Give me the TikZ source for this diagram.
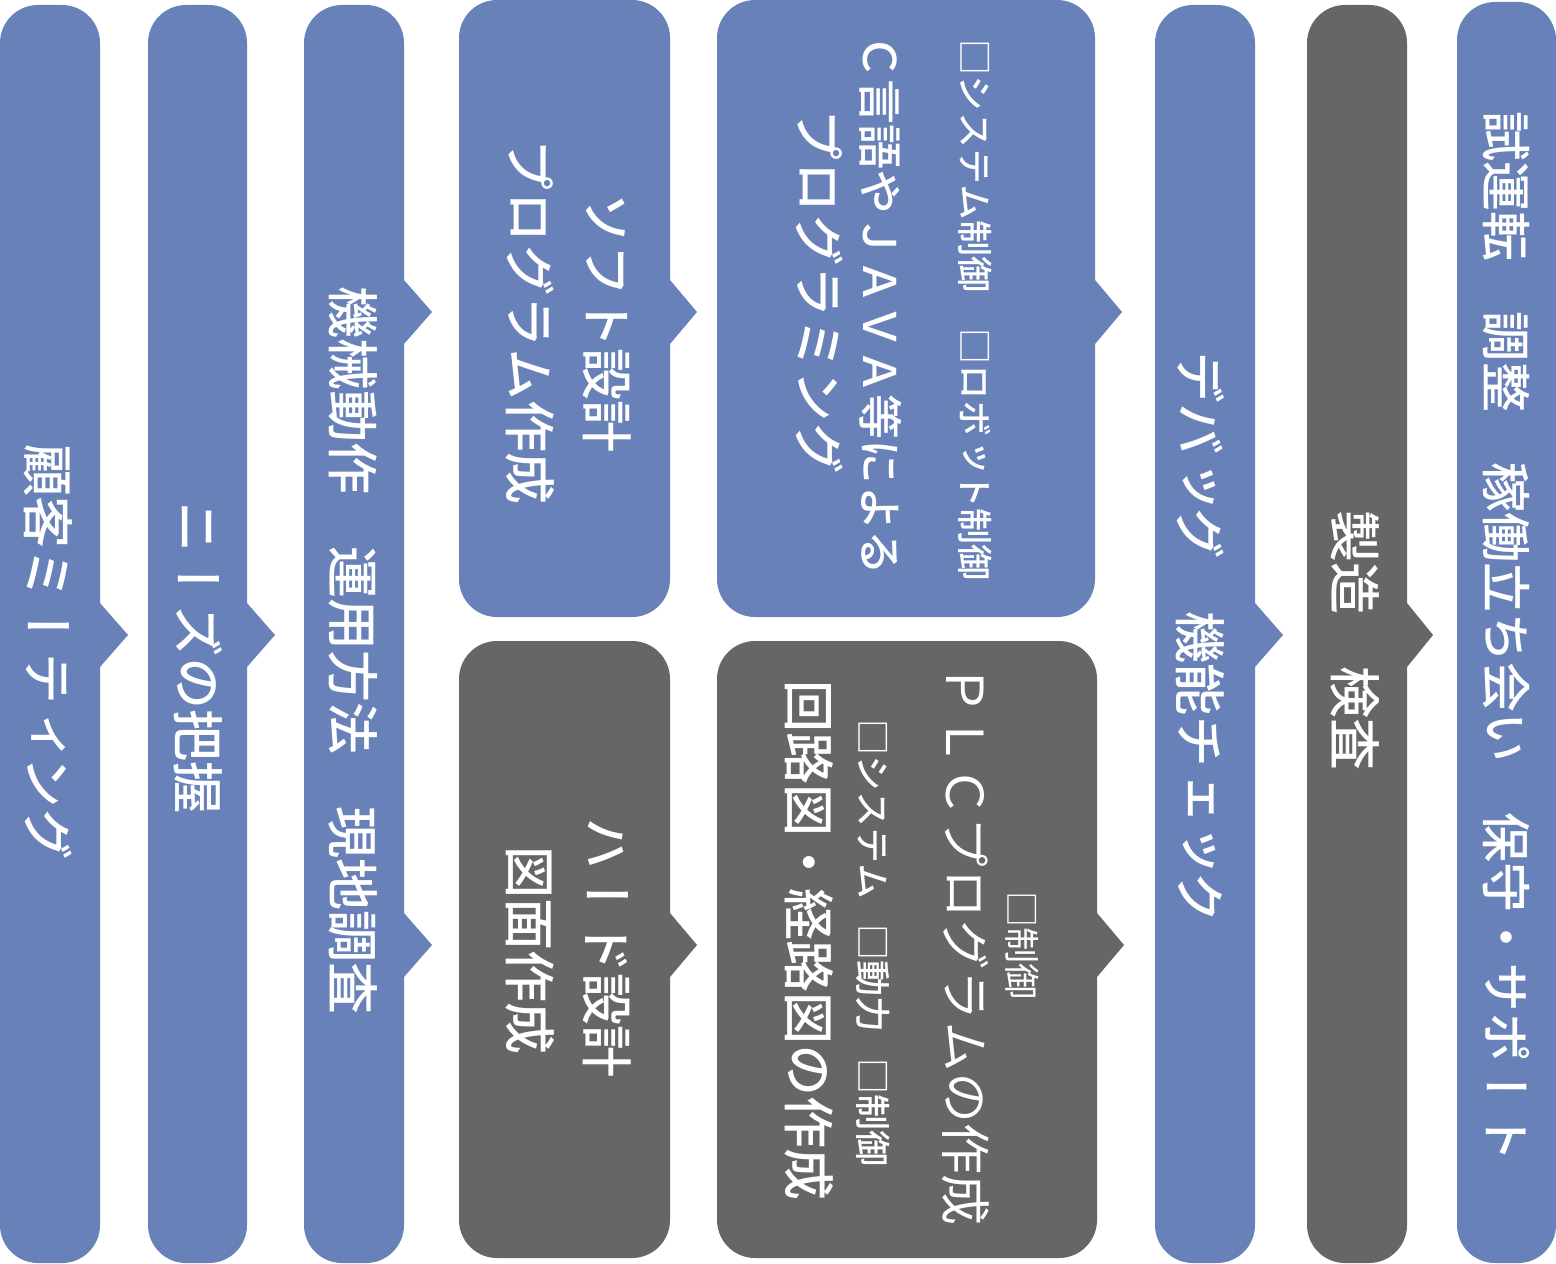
\documentclass[tikz,border=0pt]{standalone}
\usepackage{fontspec}
\usepackage{tikz}
\newfontfamily\jpfont{Noto Sans CJK JP Medium}[Vertical=RotatedGlyphs]
\newfontfamily\jpthin{Noto Sans CJK JP}[Vertical=RotatedGlyphs]
\definecolor{barblue}{RGB}{104,130,185}
\definecolor{bargrey}{RGB}{102,102,102}

\tikzset{
  bar/.style={rounded corners=19pt},
  vtext/.style={rotate=-90, text=white, inner sep=0pt,
    font=\jpfont\fontsize{26}{30}\selectfont},
  vmid/.style={vtext, font=\jpfont\fontsize{22.5}{26}\selectfont},
  vsmall/.style={vtext, font=\jpfont\fontsize{18}{22}\selectfont},
  vthin/.style={vtext, font=\jpthin\fontsize{25.5}{30}\selectfont},
  vthinsmall/.style={vtext, font=\jpthin\fontsize{18}{22}\selectfont}
}

\begin{document}
\begin{tikzpicture}[x=0.5pt, y=-0.5pt]
    \useasboundingbox (0, 0) rectangle (1556, 1263);
    % columns and blocks
    \fill[barblue, bar] (0, 5) rectangle (100, 1263);
    \fill[barblue] (100, 603) -- (128, 635) -- (100, 667) -- cycle;
    \fill[barblue, bar] (148, 5) rectangle (247, 1263);
    \fill[barblue] (247, 603) -- (275, 635) -- (247, 667) -- cycle;
    \fill[barblue, bar] (304, 5) rectangle (404, 1263);
    \fill[barblue] (404, 280) -- (432, 312) -- (404, 344) -- cycle;
    \fill[barblue] (404, 913) -- (432, 945) -- (404, 977) -- cycle;
    \fill[barblue, bar] (459, 0) rectangle (670, 617);
    \fill[barblue] (670, 280) -- (697, 312) -- (670, 344) -- cycle;
    \fill[bargrey, bar] (459, 641) rectangle (670, 1258);
    \fill[bargrey] (670, 913) -- (697, 945) -- (670, 977) -- cycle;
    \fill[barblue, bar] (717, 0) rectangle (1095, 617);
    \fill[barblue] (1095, 280) -- (1122, 312) -- (1095, 344) -- cycle;
    \fill[bargrey, bar] (717, 641) rectangle (1097, 1258);
    \fill[bargrey] (1097, 913) -- (1124, 945) -- (1097, 977) -- cycle;
    \fill[barblue, bar] (1155, 5) rectangle (1255, 1263);
    \fill[barblue] (1255, 603) -- (1283, 635) -- (1255, 667) -- cycle;
    \fill[bargrey, bar] (1307, 5) rectangle (1407, 1263);
    \fill[bargrey] (1407, 603) -- (1433, 635) -- (1407, 667) -- cycle;
    \fill[barblue, bar] (1457, 2) rectangle (1556, 1263);
    % texts
    \node[vtext] (meeting) at (48, 652) {顧客ミーティング};
    \node[vtext] (needs) at (198, 657) {ニーズの把握};
    \node[vtext] (survey) at (353, 650) {機械動作　運用方法　現地調査};
    \node[vtext] (softa) at (607, 322) {ソフト設計};
    \node[vtext] (softb) at (530, 322) {プログラム作成};
    \node[vtext] (harda) at (607, 947) {ハード設計};
    \node[vtext] (hardb) at (530, 950) {図面作成};
    \node[vsmall] (progc) at (975, 310) {□システム制御　□ロボット制御};
    \node[vmid] (progb) at (881, 305) {Ｃ言語やＪＡＶＡ等による};
    \node[vtext] (proga) at (820, 292) {プログラミング};
    \node[vthinsmall] (plcd) at (1022, 945) {□制御};
    \node[vthin] (plcc) at (966, 945) {ＰＬＣプログラムの作成};
    \node[vsmall] (plcb) at (873, 943) {□システム\hspace{0.7em}□動力\hspace{0.7em}□制御};
    \node[vtext] (plca) at (809, 940) {回路図・経路図の作成};
    \node[vtext] (debug) at (1200, 637) {デバッグ　機能チェック};
    \node[vtext] (make) at (1355, 640) {製造　検査};
    \node[vtext, font=\jpfont\fontsize{25}{30}\selectfont] (trial) at (1506, 637) {試運転　調整　稼働立ち会い　保守・サポート};
\end{tikzpicture}
\end{document}
